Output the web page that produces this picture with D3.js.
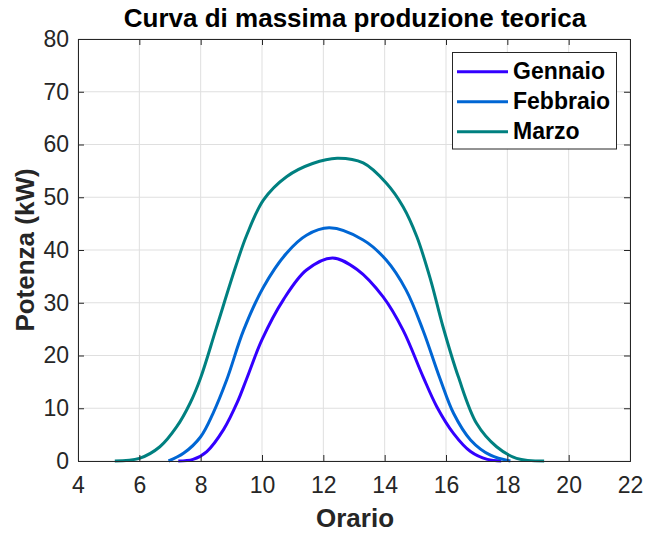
<!DOCTYPE html>
<html><head><meta charset="utf-8">
<script src="https://cdn.jsdelivr.net/npm/d3@7"></script>
<style>body{margin:0;background:#fff}svg{display:block}text{font-family:"Liberation Sans",Arial,sans-serif}</style>
</head><body>
<script>
const xTicks = [4,6,8,10,12,14,16,18,20,22];
const yTicks = [0,10,20,30,40,50,60,70,80];
const seriesNames = ["Gennaio","Febbraio","Marzo"];
const seriesColors = ["#3300ff","#0066d4","#008080"];

const gennaioX = [7.27,7.75,8.2,8.75,9.2,9.5,10.0,10.7,11.45,12.3,13.1,13.95,14.6,15.25,15.7,16.25,16.8,17.35,17.8];
const gennaioY = [0,0.3,1.8,6.0,11.2,15.6,23.0,30.6,36.2,38.5,36.3,31.1,24.8,16,10.3,5.2,1.8,0.3,0];

const febbraioX = [6.95,7.45,8.0,8.4,8.85,9.4,10.05,10.8,11.45,12.2,13.3,14.05,14.7,15.25,15.8,16.25,16.8,17.45,18.1];
const febbraioY = [0,1.5,4.6,9,15.4,24.8,33,39.4,42.8,44.2,41.9,38.1,32.4,24.8,15.7,9,4,1.1,0];

const marzoX = [5.2,6.0,6.67,7.22,7.65,8.0,8.5,9.15,9.5,10.05,10.8,11.65,12.45,13.3,14.05,14.6,15.05,15.5,15.9,16.4,17.0,17.65,18.3,19.2];
const marzoY = [0,0.5,2.7,6.5,10.9,15.8,25,37.0,42.8,49.5,53.9,56.4,57.4,56.5,52.7,48.2,42.5,34.3,25.5,16,7.1,2.7,0.5,0];

const seriesX = [gennaioX, febbraioX, marzoX];
const seriesY = [gennaioY, febbraioY, marzoY];

const W = 646, H = 535;
const L = 78, R = 630, T = 39, B = 461;
const svg = d3.select("body").append("svg").attr("width", W).attr("height", H);
const x = d3.scaleLinear().domain([4,22]).range([L,R]);
const y = d3.scaleLinear().domain([0,80]).range([B,T]);
const axisColor = "#262626";

// grid
const g = svg.append("g");
g.selectAll("line.vx").data(xTicks).join("line")
  .attr("x1", d=>x(d)).attr("x2", d=>x(d)).attr("y1", T).attr("y2", B)
  .attr("stroke", "#dfdfdf").attr("stroke-width", 1);
g.selectAll("line.hy").data(yTicks).join("line")
  .attr("y1", d=>y(d)).attr("y2", d=>y(d)).attr("x1", L).attr("x2", R)
  .attr("stroke", "#dfdfdf").attr("stroke-width", 1);

// series
svg.append("clipPath").attr("id","pc").append("rect")
  .attr("x", L).attr("y", T).attr("width", R-L).attr("height", B-T+2);
const line = d3.line().curve(d3.curveCatmullRom.alpha(0.5));
seriesNames.forEach((name, i) => {
  const pts = seriesX[i].map((v, j) => [x(v), y(seriesY[i][j])]);
  svg.append("path").attr("d", line(pts)).attr("fill", "none").attr("clip-path","url(#pc)")
    .attr("stroke", seriesColors[i]).attr("stroke-width", 3).attr("stroke-linejoin","round");
});

// axes
const xAxisB = d3.axisBottom(x).tickValues(xTicks).tickSize(-6).tickPadding(16).tickFormat(d3.format("d"));
const xAxisT = d3.axisTop(x).tickValues(xTicks).tickSize(-6).tickFormat("");
const yAxisL = d3.axisLeft(y).tickValues(yTicks).tickSize(-6).tickPadding(9).tickFormat(d3.format("d"));
const yAxisR = d3.axisRight(y).tickValues(yTicks).tickSize(-6).tickFormat("");
function style(sel){
  sel.selectAll("path.domain").attr("stroke", axisColor).attr("stroke-width", 1);
  sel.selectAll(".tick line").attr("stroke", axisColor);
  sel.selectAll(".tick text").attr("fill", axisColor).style("font-size","23px").style("font-family","'Liberation Sans',Arial,sans-serif");
}
svg.append("g").attr("transform", `translate(0,${B})`).call(xAxisB).call(style);
svg.append("g").attr("transform", `translate(0,${T})`).call(xAxisT).call(style);
svg.append("g").attr("transform", `translate(${L},0)`).call(yAxisL).call(style);
svg.append("g").attr("transform", `translate(${R},0)`).call(yAxisR).call(style);

// title & labels
svg.append("text").attr("x", 355).attr("y", 27).attr("text-anchor","middle")
  .style("font-size","26px").style("font-weight","bold").attr("fill","#000")
  .text("Curva di massima produzione teorica");
svg.append("text").attr("x", 355).attr("y", 527).attr("text-anchor","middle")
  .style("font-size","26px").style("font-weight","bold").attr("fill",axisColor)
  .text("Orario");
svg.append("text").attr("transform", `translate(34,250) rotate(-90)`).attr("text-anchor","middle")
  .style("font-size","26px").style("font-weight","bold").attr("fill",axisColor)
  .text("Potenza (kW)");

// legend
const lg = svg.append("g");
lg.append("rect").attr("x", 452.5).attr("y", 52.5).attr("width", 164).attr("height", 96.5)
  .attr("fill","#fff").attr("stroke", axisColor).attr("stroke-width", 1);
seriesNames.forEach((name, i) => {
  const yy = 71.7 + i*30;
  lg.append("line").attr("x1", 457).attr("x2", 508).attr("y1", yy).attr("y2", yy)
    .attr("stroke", seriesColors[i]).attr("stroke-width", 3);
  lg.append("text").attr("x", 513).attr("y", yy + 7.5).style("font-size","23px").style("font-weight","bold")
    .attr("fill","#000").text(name);
});
</script>
</body></html>
